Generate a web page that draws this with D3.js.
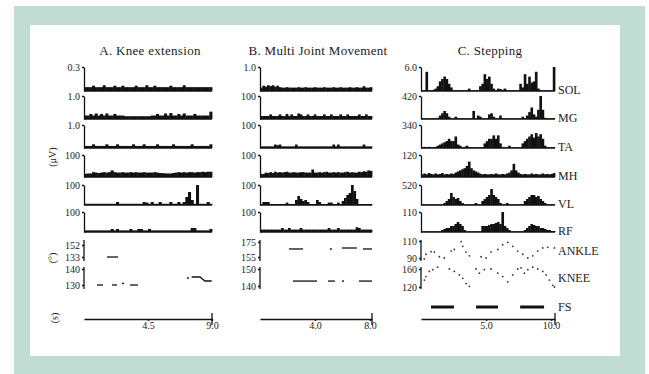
<!DOCTYPE html>
<html lang="en">
<head>
  <meta charset="UTF-8">
  <title>EMG and joint angles</title>
  <script src="https://cdn.jsdelivr.net/npm/d3@7"></script>
  <style>
    body { margin: 0; background: #fff; }
    text { font-family: "Liberation Serif", "Times New Roman", serif; fill: #1c1c1c; }
    .ax path, .ax line { stroke: #111; stroke-width: 1.3; }
  </style>
</head>
<body>
<script>
var w = 649, h = 374;

// EMG bins, arbitrary units 0..10 (10 = top of row)
var emgA1 = [1.6,1.6,1.6,2.2,1.6,1.6,1.6,2.4,1.6,1.6,1.6,2.2,1.6,1.6,2.2,1.6,1.6,1.6,1.6,2.2,1.6,1.6,1.6,2.4,1.6,1.6,2.2,1.6,1.6,1.6,1.6,1.6,2.2,1.6,1.6,1.6,1.6,2.4,1.6,1.6,1.6,1.6,1.6,1.6,1.6,1.6,1.6,1.6];
var emgA2 = [1.5,1.5,2.2,1.5,2.4,1.5,2.2,1.5,2.4,1.5,1.5,2.2,1.5,1.5,1.5,1.2,1.2,1.2,1.2,1.2,1.2,1.2,1.2,1.2,1.2,1.5,1.5,2.2,1.5,1.5,2.4,1.5,2.6,1.5,1.5,2.2,1.5,2.4,1.5,1.5,1.5,2.2,1.5,1.5,1.5,1.5,1.5,3.2];
var emgA3 = [0.9,0.9,0.9,1.6,0.9,0.9,0.9,0.9,1.6,0.9,0.9,0.9,1.6,0.9,0.9,0.9,0.9,0.9,1.6,0.9,0.9,0.9,1.6,0.9,0.9,0.9,0.9,1.6,0.9,0.9,0.9,0.9,0.9,1.6,0.9,0.9,0.9,0.9,0.9,0.9,1.6,0.9,0.9,0.9,0.9,0.9,0.9,1.6];
var emgA4 = [1.4,1.6,1.6,2.2,2,1.8,2,2.2,2,2.2,3,2.2,2,2,2.2,2,2,2.2,2,2.2,2,2,2.2,2,2,2,2.2,2,1.8,1.8,1.6,1.6,1.6,1.8,2,2.2,2,2.2,2,2.2,2.2,2,2.2,2.2,2.4,2.2,2.4,2.4];
var emgA5 = [0.6,0.6,0.6,0.6,0.6,0.6,0.6,0.6,0.6,0.6,0.6,0.6,1.5,0.6,0.6,0.6,0.6,0.6,0.6,0.6,0.6,0.6,1.5,1.2,0.6,1.5,0.6,0.6,1.5,0.6,0.6,0.6,1.5,0.6,0.6,1.5,0.6,1.5,4,6.5,2.5,0.6,10,0.6,0.6,0.6,1.5,0.6];
var emgA6 = [0.8,0.8,0.8,0.8,0.8,0.8,0.8,0.8,0.8,0.8,1.5,0.8,1.5,0.8,0.8,0.8,0.8,1.5,0.8,0.8,1.5,1.5,0.8,0.8,1.5,0.8,0.8,0.8,0.8,0.8,0.8,0.8,0.8,0.8,0.8,0.8,0.8,0.8,0.8,0.8,2,2,0.8,0.8,0.8,0.8,0.8,1.5];

var emgB1 = [1.4,2.2,1.8,2.4,2,2.4,1.8,2.2,1.6,1.4,1.4,1.6,1.4,1.4,1.4,1.4,1.6,1.4,1.4,1.6,1.4,1.4,1.4,1.6,1.4,1.4,1.4,1.6,1.4,1.4,1.4,1.6,1.4,1.4,1.6,1.4,1.4,1.4,1.6,1.4,1.4,1.6,1.4,1.4,2,1.4,1.4,1.6];
var emgB2 = [1.3,1.3,1.3,1.3,2,1.3,1.3,1.3,2,1.3,1.3,2.2,1.3,2,1.3,1.3,2.4,2,1.3,1.3,2,1.3,1.3,2,1.3,1.3,1.3,2,1.3,1.3,2,1.3,1.3,1.3,2,1.3,1.3,2,1.3,1.3,1.3,1.3,2,1.3,1.3,2,1.3,1.3];
var emgB3 = [0.7,0.7,0.7,0.7,0.7,0.7,1.5,1.2,1.5,0.7,0.7,0.7,0.7,0.7,0.7,1.5,0.7,0.7,0.7,0.7,0.7,0.7,0.7,0.7,0.7,0.7,0.7,0.7,0.7,0.7,0.7,1.5,0.7,1.5,0.7,0.7,0.7,0.7,0.7,0.7,0.7,0.7,0.7,0.7,1.5,0.7,0.7,0.7];
var emgB4 = [1.4,1.4,2,1.8,2.2,1.8,2.4,2,2.2,2,2.2,2.4,2,2,2.2,2,2,2.2,2.2,2,2,2,3.4,2,2,2.2,2,2.2,2.4,2,2,2.2,2,2.2,2,2,2.2,2.4,2,2.2,2,2,2.4,2.2,2.6,2.4,3,2.8];
var emgB5 = [0.5,1.5,1.5,1.5,0.5,0.5,0.5,0.5,0.5,0.5,0.5,1.2,0.5,0.5,0.5,2.5,4.5,3,2,2.5,1.5,0.5,0.5,0.5,2.5,1.5,0.5,0.5,0.5,1.2,1.2,0.5,0.5,1.2,0.5,2,3.5,5,6,10,7,3,0.5,0.5,0.5,0.5,0.5,0.5];
var emgB6 = [1.2,1.2,1.2,1.2,1.2,1.2,1.2,1.2,1.2,2,1.2,1.2,2,1.2,1.2,1.2,1.2,2,1.2,1.2,1.2,1.2,1.2,1.2,1.2,1.2,1.2,1.2,1.2,2,1.2,1.2,1.2,2,1.2,1.2,1.2,1.2,1.2,1.2,1.2,2.4,2,1.2,1.2,1.2,1.2,1.2];

var emgC1 = [0.3,0.3,8,0.3,0.3,0.5,1,2,4,5,6,5,3,1.5,0.3,0.3,0.3,0.3,0.3,0.3,0.3,1,0.3,0.3,0.3,0.3,2,3,7,5,6,3,1,0.3,1,0.8,0.5,1,0.3,0.3,0.3,0.3,0.3,0.3,3,1.5,7,3,6,3.5,4,8,1,0.3,0.3,0.3,0.3,0.3,0.3,10];
var emgC2 = [0.3,0.3,0.3,0.3,0.3,0.3,0.3,0.5,1.5,2.5,3.5,2.5,1,0.3,0.3,1,0.3,0.3,0.3,0.3,0.3,0.3,0.3,3.5,0.3,1.5,1,0.3,0.3,0.3,2,2.5,1,0.3,0.3,1.5,0.3,0.3,0.3,0.3,0.3,0.3,0.3,0.3,0.3,1,0.3,1.5,3,5,2,1,4,10,4,0.5,0.3,0.3,0.3,0.3];
var emgC3 = [0.3,0.5,0.3,0.5,0.3,0.3,0.5,1,1.5,2,2.5,3,4,3,3,5,1.5,1,0.3,0.5,1,0.3,0.3,0.3,0.3,0.3,0.3,0.3,2,3,4,4,5.5,4,5.5,2,0.3,0.3,0.3,1,0.3,0.3,0.3,0.3,0.3,2,3,4,5,6,4.5,6.5,5,6,4,1,0.3,0.3,0.3,0.3];
var emgC4 = [1.2,1.6,1.2,1.8,1.4,1.2,1.6,1.2,1.4,1.8,1.2,1.4,1.2,1.6,1.4,2,2.5,3,3.5,4,5,7,4,3,2.5,2,1.5,1.2,1.4,1.2,1.2,1.4,1.2,1.6,1.2,1.2,1.4,1.2,1.6,2,3,6,3,2,1.4,1.2,1.4,1.2,1.2,1.6,1.2,1.4,1.2,1.2,1.6,1.2,1.4,1.2,1.4,1.8];
var emgC5 = [0.3,0.3,0.3,0.3,0.3,0.3,0.3,0.3,0.3,0.3,1,2,3,6,4,3,3.5,2,1,0.3,0.3,0.3,0.3,0.3,1,0.3,0.3,2,3,4,5,8,5,4,3,1,0.3,0.3,1,0.3,0.3,0.3,0.3,0.3,0.3,0.3,2,3,4,5,5,4,4.5,3,2,1,0.3,0.3,0.3,0.3];
var emgC6 = [0.3,0.3,0.3,0.3,0.3,0.3,0.3,0.3,0.3,1,1.5,2,2,3,3,4,5,4,3,1,0.3,0.3,0.3,0.3,0.3,0.3,0.3,3,3,3,3.5,4,4,4.5,5,4,10,3,2,1,0.3,0.3,0.3,0.3,0.3,0.3,1,2,3,4,3.5,3,3,2,2,1.5,1,1,0.5,0.5];

// row tick labels and names
var emgLabelsA = ["0.3", "1.0", "1.0", "100", "100", "100"];
var emgLabelsB = ["1.0", "100", "100", "100", "100", "100"];
var emgLabelsC = ["6.0", "420", "340", "120", "520", "110"];
var muscleNames = ["SOL", "MG", "TA", "MH", "VL", "RF"];

// joint angles (s, deg); A and B are broken segments
var ankleA = [[[1.62,133],[2.39,133]]];
var kneeA = [[[0.91,130],[1.34,130]], [[1.97,130],[2.32,130]], [[2.74,131]], [[3.23,130],[3.8,130]],
             [[7.31,134.4]], [[7.57,135],[8.16,135],[8.5,132.5],[8.98,132.5]]];
var ankleB = [[[2.11,165.7],[3.13,165.7]], [[5.16,165.7]], [[5.96,167],[7.05,167]], [[7.49,165.7],[8.15,165.7]]];
var kneeB = [[[2.4,142.9],[4.15,142.9]], [[4.95,142.9],[5.45,142.9]], [[6.04,142.9]], [[7.2,142.9],[8.15,142.9]]];
var ankleC = [[0.25,88.9],[0.38,94.4],[0.77,97.4],[1.03,97],[1.41,91.5],[1.79,90],[2.31,98.1],[2.56,100],[3.08,109.3],[3.21,103.7],
              [3.46,97],[3.72,92.6],[4.62,91.5],[5.0,90],[5.38,97],[5.9,100],[6.28,105.6],[6.67,108.5],[7.05,103.7],[7.44,98.1],
              [7.82,94.4],[8.21,90],[8.59,92.6],[8.97,98.1],[9.36,101.9],[9.74,102.6],[10.26,101.9]];
var kneeC = [[0.26,135.4],[0.38,143.1],[0.64,154.6],[0.9,158.5],[1.28,164],[2.18,160],[2.56,154.6],[2.95,146.9],[3.21,139.2],[3.46,127.7],
             [3.72,121.5],[4.23,160],[4.49,150.8],[4.87,158.5],[5.38,160],[5.9,150.8],[6.28,143.1],[6.67,131.5],[7.05,146.9],[7.44,160],
             [7.69,162.3],[7.95,150.8],[8.21,158.5],[8.59,164],[8.97,160],[9.36,154.6],[9.62,146.9],[9.87,135.4],[10.13,123.8],[10.26,120]];
// foot switch (stance) intervals, s
var fsC = [[0.77,2.54],[4.23,5.92],[7.62,9.46]];

var ankleTicksA = [133, 152], kneeTicksA = [130, 140];
var ankleTicksB = [155, 175], kneeTicksB = [140, 150];
var ankleTicksC = [90, 110],  kneeTicksC = [120, 160];
var timeTicksA = [4.5, 9], timeTicksB = [4, 8], timeTicksC = [5, 10];

// layout
var rowTop  = [67, 96, 125, 155, 185, 212];
var rowBase = [91, 119, 148, 177, 205, 232];
var ankleTop = 240, ankleBot = 261, kneeTop = 267, kneeBot = 289;
var timeY = 319;

var cols = [
  {title: "A. Knee extension", x0: 84, x1: 212, tEnd: 9,
   emg: [emgA1, emgA2, emgA3, emgA4, emgA5, emgA6], labels: emgLabelsA,
   ankle: ankleA, knee: kneeA, ankleTicks: ankleTicksA, kneeTicks: kneeTicksA,
   ankleRange: [257, 245], kneeRange: [285, 269], timeTicks: timeTicksA},
  {title: "B. Multi Joint Movement", x0: 260, x1: 372, tEnd: 8.15,
   emg: [emgB1, emgB2, emgB3, emgB4, emgB5, emgB6], labels: emgLabelsB,
   ankle: ankleB, knee: kneeB, ankleTicks: ankleTicksB, kneeTicks: kneeTicksB,
   ankleRange: [257, 242], kneeRange: [286, 269], timeTicks: timeTicksB},
  {title: "C. Stepping", x0: 421, x1: 555, tEnd: 10.3,
   emg: [emgC1, emgC2, emgC3, emgC4, emgC5, emgC6], labels: emgLabelsC,
   ankleRange: [258, 241], kneeRange: [287, 269], timeTicks: timeTicksC,
   ankleTicks: ankleTicksC, kneeTicks: kneeTicksC, stepping: true}
];

var svg = d3.select("body").append("svg").attr("width", w).attr("height", h);

// frame
svg.append("rect").attr("x", 14).attr("y", 6).attr("width", 631).attr("height", 368).attr("fill", "#c1dcd3");
svg.append("rect").attr("x", 30).attr("y", 25).attr("width", 590).attr("height", 331).attr("fill", "#fff");

function leftAxis(g, x0, scale, ticks, fmt) {
  var a = g.append("g").attr("class", "ax").attr("transform", "translate(" + x0 + ",0)")
    .call(d3.axisLeft(scale).tickValues(ticks).tickFormat(fmt).tickSize(2).tickSizeOuter(0).tickPadding(2));
  a.attr("font-family", null).attr("font-size", 10);
  return a;
}

cols.forEach(function(c) {
  var x = d3.scaleLinear().domain([0, c.tEnd]).range([c.x0, c.x1]);
  var g = svg.append("g");

  g.append("text")
    .attr("x", (c.x0 + c.x1) / 2 + 2).attr("y", 55)
    .attr("text-anchor", "middle").attr("font-size", 13).attr("letter-spacing", 0.3)
    .text(c.title);

  // EMG rows
  c.emg.forEach(function(vals, r) {
    var y = d3.scaleLinear().domain([0, 10]).range([rowBase[r], rowTop[r]]);
    var bw = c.tEnd / vals.length;
    g.append("g").selectAll("rect")
      .data(vals)
      .enter()
      .append("rect")
      .attr("x", function(d, i) { return x(i * bw); })
      .attr("width", x(bw) - x(0) + 0.4)
      .attr("y", function(d) { return y(d); })
      .attr("height", function(d) { return y(0) - y(d); })
      .attr("fill", "#111");
    g.append("line")
      .attr("x1", c.x0).attr("x2", c.x1)
      .attr("y1", rowBase[r]).attr("y2", rowBase[r])
      .attr("stroke", "#111").attr("stroke-width", 1.3);
    leftAxis(g, c.x0, y, [10], function() { return c.labels[r]; });
    if (c.stepping) {
      g.append("text").attr("x", c.x1 + 3).attr("y", rowBase[r] - 1)
        .attr("dy", "0.35em").attr("font-size", 12).text(muscleNames[r]);
    }
  });

  // joint angles
  var yAnk = d3.scaleLinear().domain(c.ankleTicks).range(c.ankleRange);
  var yKne = d3.scaleLinear().domain(c.kneeTicks).range(c.kneeRange);
  [[yAnk, c.ankleTicks, ankleTop, ankleBot], [yKne, c.kneeTicks, kneeTop, kneeBot]].forEach(function(p) {
    var a = leftAxis(g, c.x0, p[0], p[1], d3.format("d"));
    a.select(".domain").remove();
    g.append("line").attr("x1", c.x0).attr("x2", c.x0).attr("y1", p[2]).attr("y2", p[3])
      .attr("stroke", "#111").attr("stroke-width", 1.3);
  });

  if (c.stepping) {
    [[ankleC, yAnk], [kneeC, yKne]].forEach(function(p) {
      g.append("g").selectAll("circle")
        .data(p[0])
        .enter()
        .append("circle")
        .attr("cx", function(d) { return x(d[0]); })
        .attr("cy", function(d) { return p[1](d[1]); })
        .attr("r", 0.9)
        .attr("fill", "#333");
    });
    g.append("text").attr("x", c.x1 + 3).attr("y", yAnk(98)).attr("dy", "0.35em").attr("font-size", 12).text("ANKLE");
    g.append("text").attr("x", c.x1 + 3).attr("y", yKne(140)).attr("dy", "0.35em").attr("font-size", 12).text("KNEE");

    g.append("g").selectAll("line")
      .data(fsC)
      .enter()
      .append("line")
      .attr("x1", function(d) { return x(d[0]); })
      .attr("x2", function(d) { return x(d[1]); })
      .attr("y1", 307).attr("y2", 307)
      .attr("stroke", "#111").attr("stroke-width", 3);
    g.append("text").attr("x", c.x1 + 3).attr("y", 307).attr("dy", "0.35em").attr("font-size", 12).text("FS");
  } else {
    var line = function(ys) {
      return d3.line().x(function(d) { return x(d[0]); }).y(function(d) { return ys(d[1]); });
    };
    [[c.ankle, yAnk], [c.knee, yKne]].forEach(function(p) {
      p[0].forEach(function(seg) {
        if (seg.length === 1) {
          g.append("rect").attr("x", x(seg[0][0]) - 1).attr("y", p[1](seg[0][1]) - 0.7)
            .attr("width", 2).attr("height", 1.4).attr("fill", "#111");
        } else {
          g.append("path").attr("d", line(p[1])(seg))
            .attr("fill", "none").attr("stroke", "#111").attr("stroke-width", 1.3);
        }
      });
    });
  }

  // time axis
  var ta = g.append("g").attr("class", "ax").attr("transform", "translate(0," + timeY + ")")
    .call(d3.axisBottom(x).tickValues(c.timeTicks).tickFormat(d3.format(".1f"))
      .tickSize(2).tickSizeOuter(0).tickPadding(1));
  ta.attr("font-family", null).attr("font-size", 10);
  g.append("line").attr("x1", c.x1).attr("x2", c.x1).attr("y1", timeY - 6).attr("y2", timeY + 6)
    .attr("stroke", "#111").attr("stroke-width", 1.3);
});

// side titles
[["(\u03bcV)", 52, 157], ["(\u00b0)", 52, 258], ["(s)", 54, 318]].forEach(function(t) {
  svg.append("text")
    .attr("transform", "translate(" + t[1] + "," + t[2] + ") rotate(-90)")
    .attr("text-anchor", "middle").attr("dy", "0.35em").attr("font-size", 10)
    .text(t[0]);
});
</script>
</body>
</html>
